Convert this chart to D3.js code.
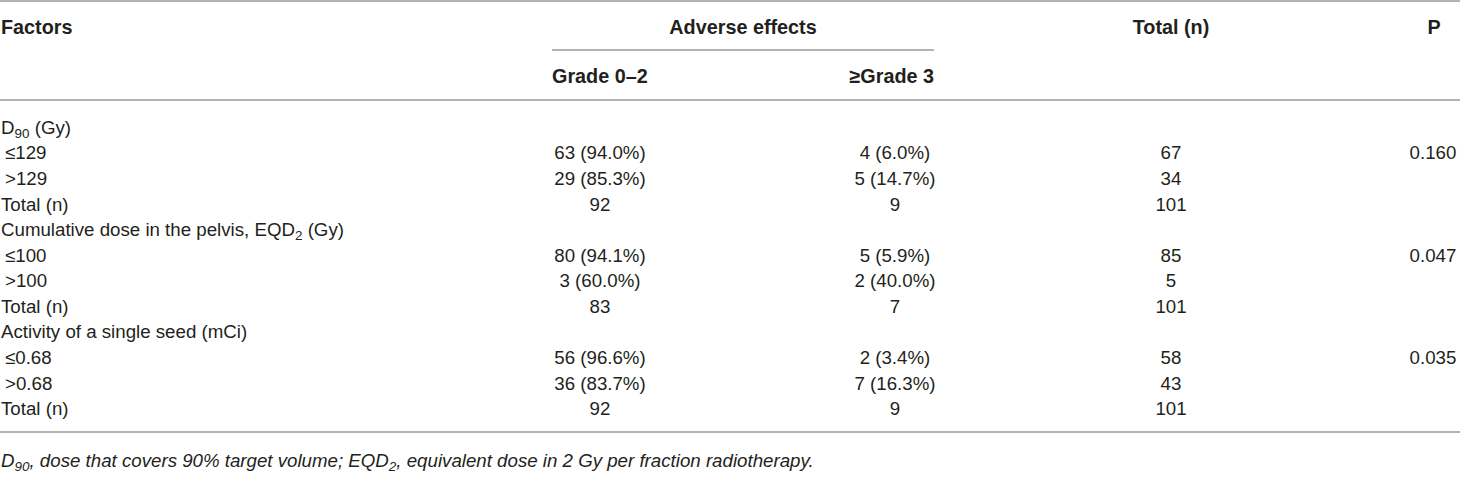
<!DOCTYPE html>
<html>
<head>
<meta charset="utf-8">
<script src="https://cdn.jsdelivr.net/npm/d3@7"></script>
<style>
  html, body { margin: 0; padding: 0; background: #fff; }
  svg { display: block; }
  text { font-family: "Liberation Sans", Arial, Helvetica, sans-serif; fill: #231f20; }
</style>
</head>
<body>
<svg id="chart" width="1460" height="482"></svg>
<script>
// ---- data ----
const factorLabels = [
  ["D", "90", " (Gy)"],
  ["\u2264129"],
  [">129"],
  ["Total (n)"],
  ["Cumulative dose in the pelvis, EQD", "2", " (Gy)"],
  ["\u2264100"],
  [">100"],
  ["Total (n)"],
  ["Activity of a single seed (mCi)"],
  ["\u22640.68"],
  [">0.68"],
  ["Total (n)"]
];
const rowKinds = ["group", "sub", "sub", "total", "group", "sub", "sub", "total", "group", "sub", "sub", "total"];
const grade02 = ["", "63 (94.0%)", "29 (85.3%)", "92", "", "80 (94.1%)", "3 (60.0%)", "83", "", "56 (96.6%)", "36 (83.7%)", "92"];
const grade3 = ["", "4 (6.0%)", "5 (14.7%)", "9", "", "5 (5.9%)", "2 (40.0%)", "7", "", "2 (3.4%)", "7 (16.3%)", "9"];
const totals = ["", "67", "34", "101", "", "85", "5", "101", "", "58", "43", "101"];
const pValues = ["", "0.160", "", "", "", "0.047", "", "", "", "0.035", "", ""];
const headers = ["Factors", "Adverse effects", "Total (n)", "P"];
const subHeaders = ["Grade 0\u20132", "\u2265Grade 3"];
const footnote = [["D", ""], ["90", "sub"], [", dose that covers 90% target volume; EQD", ""], ["2", "sub"], [", equivalent dose in 2 Gy per fraction radiotherapy.", ""]];

// ---- layout ----
const W = 1460;
const FS = 18.7;
const HFS = 19.8;
const svg = d3.select("#chart");
const rowIdx = d3.range(factorLabels.length);
const y = d3.scaleBand().domain(rowIdx).range([114.5, 421.5]).paddingInner(0);
const cols = { g02: 600, g3: 895, total: 1171, p: 1433 };
const lineColor = "#9a9a9a";

function hline(x1, x2, yy, w) {
  svg.append("line").attr("x1", x1).attr("x2", x2).attr("y1", yy).attr("y2", yy)
    .attr("stroke", lineColor).attr("stroke-width", w || 1.5);
}
hline(0, W, 1);
hline(552, 934, 50, 1.3);
hline(0, W, 100);
hline(0, W, 432);

// headers
const hy = 34;
function head(txt, x, yy, anchor) {
  svg.append("text").attr("x", x).attr("y", yy).attr("text-anchor", anchor || "start")
    .attr("font-weight", "bold").attr("font-size", HFS).text(txt);
}
head(headers[0], 1, hy);
head(headers[1], 743, hy, "middle");
head(headers[2], cols.total, hy, "middle");
head(headers[3], 1434, hy, "middle");
head(subHeaders[0], 552, 83);
head(subHeaders[1], 934, 83, "end");

// rows
const baseOff = 6.5;
const rows = svg.selectAll("g.row").data(rowIdx).join("g").attr("class", "row")
  .attr("transform", i => `translate(0,${y(i) + y.bandwidth() / 2 + baseOff})`);

rows.append("text")
  .attr("x", i => rowKinds[i] === "sub" ? 5 : 1)
  .attr("font-size", FS)
  .each(function(i) {
    const t = d3.select(this);
    factorLabels[i].forEach((part, k) => {
      if (k === 1) {
        t.append("tspan").attr("font-size", FS * 0.72).attr("dy", 4).text(part);
      } else if (k === 2) {
        t.append("tspan").attr("dy", -4).text(part);
      } else {
        t.append("tspan").text(part);
      }
    });
  });

function addCol(arr, x) {
  rows.append("text").attr("x", x).attr("text-anchor", "middle").attr("font-size", FS)
    .text(i => arr[i]);
}
addCol(grade02, cols.g02);
addCol(grade3, cols.g3);
addCol(totals, cols.total);
addCol(pValues, cols.p);

// footnote
const FFS = 18.7;
const fn = svg.append("text").attr("x", 1).attr("y", 467).attr("font-style", "italic").attr("font-size", FFS);
footnote.forEach(([t, kind], k) => {
  const prev = k > 0 ? footnote[k - 1][1] : "";
  const ts = fn.append("tspan").text(t);
  if (kind === "sub") ts.attr("font-size", FFS * 0.72).attr("dy", 4);
  else if (prev === "sub") ts.attr("dy", -4);
});
</script>
</body>
</html>
